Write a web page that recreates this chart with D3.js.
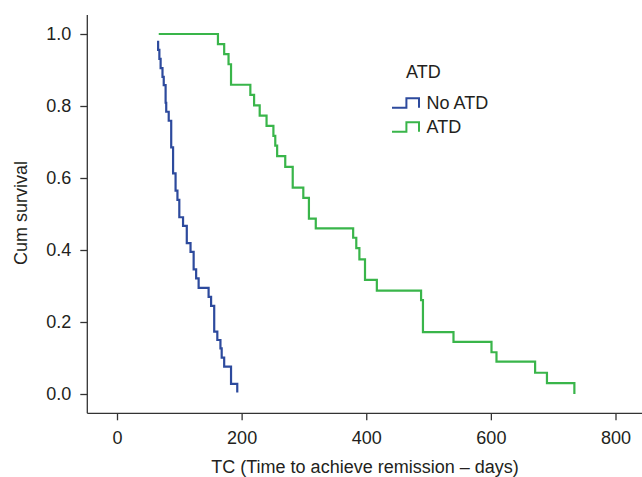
<!DOCTYPE html>
<html>
<head>
<meta charset="utf-8">
<script src="https://cdn.jsdelivr.net/npm/d3@7"></script>
<style>
  body { margin: 0; background: #fff; }
  text { font-family: "Liberation Sans", Arial, sans-serif; fill: #231f20; }
</style>
</head>
<body>
<div id="chart"></div>
<script>

// Kaplan-Meier steps (time in days, cumulative survival after the step)
var noAtdDays = [66, 66, 68, 70, 73, 75, 78, 79, 83, 87, 90, 94, 97, 100, 106, 112, 118, 123, 127, 131, 147, 151, 156, 161, 166, 168, 172, 183, 193];
var noAtdSurv = [0.981, 0.956, 0.931, 0.905, 0.881, 0.858, 0.809, 0.784, 0.759, 0.685, 0.613, 0.565, 0.539, 0.491, 0.467, 0.419, 0.395, 0.346, 0.321, 0.295, 0.270, 0.245, 0.173, 0.150, 0.127, 0.101, 0.076, 0.028, 0.004];

var atdDays = [67, 162, 172, 179, 183, 214, 220, 229, 240, 251, 254, 257, 270, 282, 299, 308, 319, 379, 384, 389, 398, 417, 488, 491, 540, 601, 609, 671, 690, 734];
var atdSurv = [1.0, 0.972, 0.944, 0.916, 0.859, 0.831, 0.802, 0.773, 0.745, 0.717, 0.690, 0.661, 0.631, 0.573, 0.545, 0.487, 0.460, 0.434, 0.405, 0.374, 0.317, 0.287, 0.261, 0.172, 0.145, 0.116, 0.090, 0.059, 0.030, 0.0];

var groupNames = ["No ATD", "ATD"];
var groupColors = ["#2d4a9d", "#39b54a"];

var xTicks = [0, 200, 400, 600, 800];
var yTicks = [0, 0.2, 0.4, 0.6, 0.8, 1.0];

var width = 642, height = 477;

var svg = d3.select("#chart").append("svg")
    .attr("width", width)
    .attr("height", height);

var x = d3.scaleLinear().domain([0, 800]).range([117, 615.5]);
var y = d3.scaleLinear().domain([0, 1]).range([394, 34]);

var axisLeftX = 87.3, axisBottomY = 413.3;

// axes
var gx = svg.append("g")
    .attr("transform", "translate(0," + axisBottomY + ")")
    .call(d3.axisBottom(x).tickValues(xTicks).tickFormat(d3.format("d"))
      .tickSize(7).tickPadding(11).tickSizeOuter(0));
gx.select(".domain").remove();

var gy = svg.append("g")
    .attr("transform", "translate(" + axisLeftX + ",0)")
    .call(d3.axisLeft(y).tickValues(yTicks).tickFormat(d3.format(".1f"))
      .tickSize(7).tickPadding(9).tickSizeOuter(0));
gy.select(".domain").remove();

svg.selectAll(".tick line").attr("stroke", "#333").attr("stroke-width", 1.3);
svg.selectAll(".tick text")
    .attr("font-size", 18)
    .style("font-family", "'Liberation Sans', Arial, sans-serif")
    .attr("fill", "#231f20");

// axis lines
svg.append("line")
    .attr("x1", axisLeftX).attr("x2", width)
    .attr("y1", axisBottomY).attr("y2", axisBottomY)
    .attr("stroke", "#333").attr("stroke-width", 1.3);
svg.append("line")
    .attr("x1", axisLeftX).attr("x2", axisLeftX)
    .attr("y1", 15).attr("y2", axisBottomY)
    .attr("stroke", "#333").attr("stroke-width", 1.3);

// axis titles
svg.append("text")
    .attr("x", 365).attr("y", 473)
    .attr("text-anchor", "middle")
    .attr("font-size", 18)
    .text("TC (Time to achieve remission \u2013 days)");

svg.append("text")
    .attr("transform", "translate(27,213) rotate(-90)")
    .attr("text-anchor", "middle")
    .attr("font-size", 18)
    .text("Cum survival");

// survival curves
var line = d3.line()
    .x(function(d) { return x(d[0]); })
    .y(function(d) { return y(d[1]); })
    .curve(d3.curveStepAfter);

var curves = [d3.zip(noAtdDays, noAtdSurv), d3.zip(atdDays, atdSurv)];

svg.selectAll(".km")
    .data(curves)
    .enter().append("path")
    .attr("class", "km")
    .attr("d", line)
    .attr("fill", "none")
    .attr("stroke", function(d, i) { return groupColors[i]; })
    .attr("stroke-width", 2.2);

// legend
var legend = svg.append("g").attr("transform", "translate(392,0)");

legend.append("text")
    .attr("x", 14).attr("y", 78)
    .attr("font-size", 18)
    .text("ATD");

var item = legend.selectAll(".item")
    .data(groupNames)
    .enter().append("g")
    .attr("class", "item")
    .attr("transform", function(d, i) { return "translate(0," + (107.7 + i * 24) + ")"; });

item.append("path")
    .attr("d", "M0,0 H14.4 V-9.4 H27 V0")
    .attr("fill", "none")
    .attr("stroke", function(d, i) { return groupColors[i]; })
    .attr("stroke-width", 2);

item.append("text")
    .attr("x", 34.5).attr("y", 1.5)
    .attr("font-size", 18)
    .text(function(d) { return d; });

</script>
</body>
</html>
